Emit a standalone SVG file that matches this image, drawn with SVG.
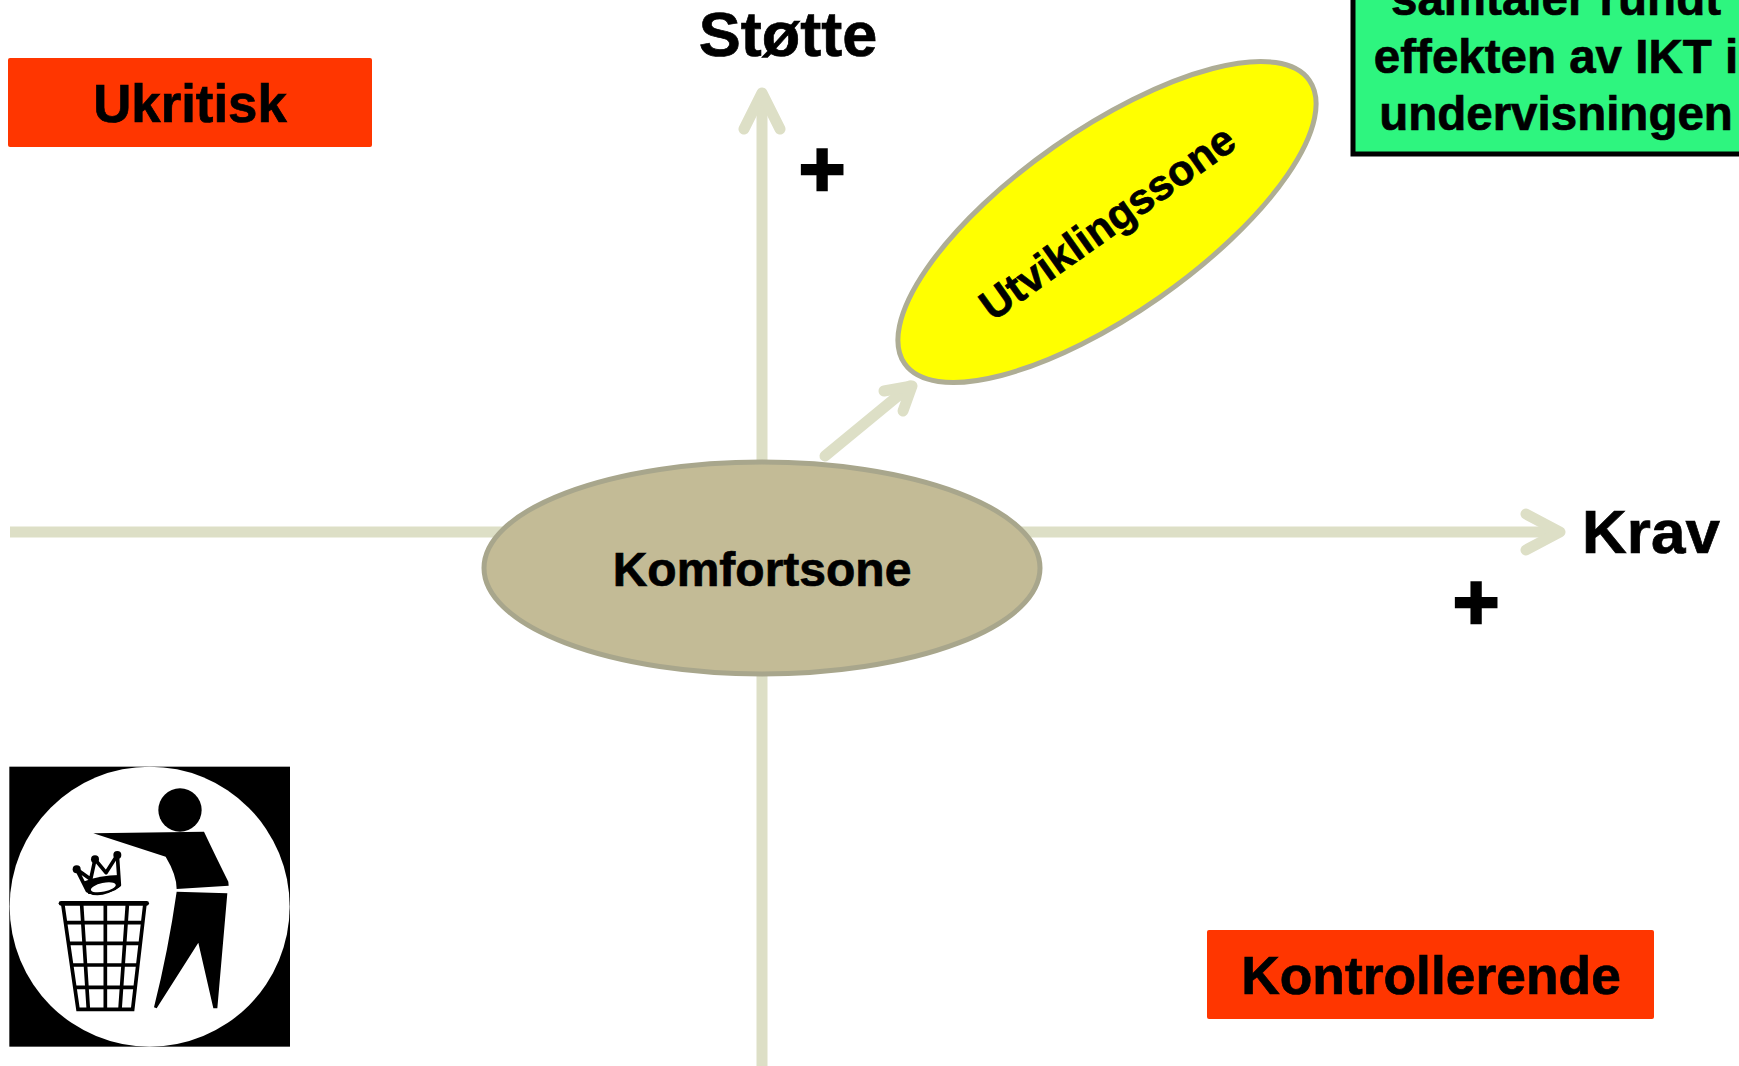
<svg xmlns="http://www.w3.org/2000/svg" width="1739" height="1066" viewBox="0 0 1739 1066">
<style>
text{font-family:"Liberation Sans",Arial,sans-serif;font-weight:700;fill:#000;text-anchor:middle;stroke:#000;stroke-width:.7}
.axis{fill:none;stroke:#DDDFC6;stroke-width:11;stroke-linejoin:round}
.round{stroke-linecap:round}
.box{fill:#FF3600}
.bin{fill:none;stroke:#000;stroke-width:11}
</style>
<rect width="1739" height="1066" fill="#fff"/>
<g id="connectors">
<path class="axis" d="M10 532H1555"/>
<path class="axis round" d="M1526 514L1560 532L1526 550"/>
<path class="axis" d="M762 1066V95"/>
<path class="axis round" d="M744 129L762 93L780 129"/>
<path class="axis round" d="M825 456L910 386"/>
<path class="axis round" d="M884 391L912 386L903 411"/>
</g>
<g id="node-ukritisk"><rect class="box" x="8" y="58" width="364" height="89" rx="2"/><text x="190" y="122" font-size="52.8">Ukritisk</text></g>
<g id="node-kontrollerende"><rect class="box" x="1207" y="930" width="447" height="89" rx="2"/><text x="1431" y="994" font-size="53.4">Kontrollerende</text></g>
<g id="node-stotte"><text x="788" y="56" font-size="63">Støtte</text></g>
<g id="node-krav"><text x="1651" y="553" font-size="62">Krav</text></g>
<g id="node-plus-y"><text x="822" y="196" font-size="80" style="stroke-width:2.5">+</text></g>
<g id="node-plus-x"><text x="1476" y="629" font-size="80" style="stroke-width:2.5">+</text></g>
<g id="node-komfortsone"><ellipse cx="762" cy="568" rx="278" ry="106" fill="#C3BB96" stroke="#A8A68C" stroke-width="5"/><text x="762" y="586" font-size="48">Komfortsone</text></g>
<g id="node-utviklingssone"><ellipse cx="1107" cy="222" rx="247" ry="92" transform="rotate(-35 1107 222)" fill="#FFFF00" stroke="#AEAD95" stroke-width="5"/><text x="1107" y="222" font-size="42.5" transform="rotate(-35.5 1107 222) translate(0 15)">Utviklingssone</text></g>
<g id="node-note"><rect x="1353" y="-20" width="400" height="174" fill="#2EF57F" stroke="#000" stroke-width="5"/>
<text x="1556" y="15" font-size="47.5">samtaler rundt</text><text x="1556" y="73" font-size="47.5">effekten av IKT i</text><text x="1556" y="130" font-size="47.5">undervisningen</text></g>
<g id="node-trash" transform="translate(0 750) scale(.33333)">
<rect x="28" y="50" width="842" height="840" fill="#000"/>
<circle cx="449" cy="470" r="420" fill="#fff"/>
<circle cx="540" cy="180" r="65" fill="#000"/>
<path d="M280 250L612 245Q650 325 685 395L686 407L530 417Q530 375 497 320Z" fill="#000"/>
<path d="M530 425L682 430L652 775L640 775L595 578L470 775L462 772Q505 600 530 425Z" fill="#000"/>
<path d="M183 460H440" stroke="#000" stroke-width="14" fill="none" stroke-linecap="round"/>
<path class="bin" d="M188 460L234 778H398L435 460M245 465L265 778M316 465V778M382 465L360 778M195 518H428M203 580H420M212 645H413M222 712H405"/>
<path d="M230 358L262 422Q300 445 358 405L352 315L318 368L285 328L272 388Z" fill="#fff" stroke="#000" stroke-width="11" stroke-linejoin="round"/>
<path d="M250 395Q300 375 358 375L360 410Q335 435 265 432Z" fill="#000"/>
<ellipse cx="310" cy="412" rx="38" ry="13" transform="rotate(-12 310 412)" fill="#fff"/>
<circle cx="230" cy="358" r="12"/><circle cx="285" cy="328" r="12"/><circle cx="352" cy="315" r="12"/>
</g>
</svg>
